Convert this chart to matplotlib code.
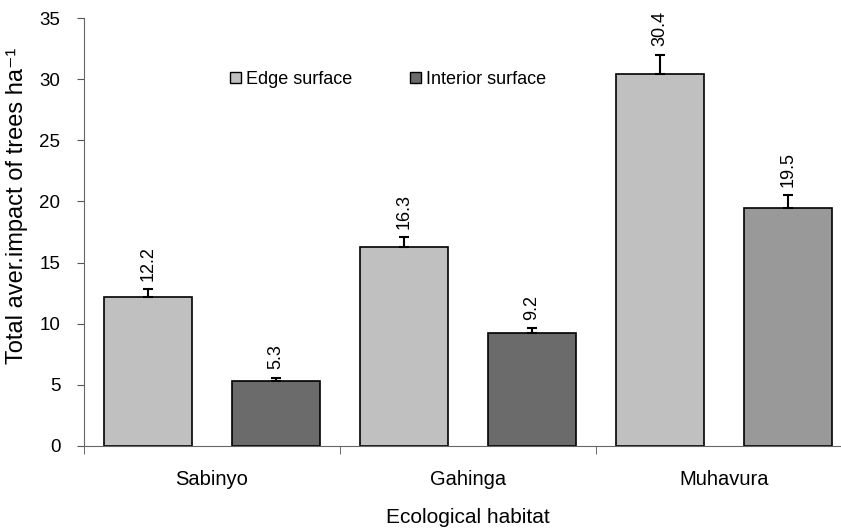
import numpy as np
import matplotlib.pyplot as plt
from matplotlib.patches import Patch

plt.rcParams['font.family'] = ['Liberation Sans', 'DejaVu Sans']

habitats = ["Sabinyo", "Gahinga", "Muhavura"]
edge_vals = [12.2, 16.3, 30.4]
edge_err = [0.65, 0.8, 1.6]
interior_vals = [5.3, 9.2, 19.5]
interior_err = [0.3, 0.45, 1.0]

edge_color = "#c0c0c0"
interior_colors = ["#6b6b6b", "#6b6b6b", "#999999"]

fig = plt.figure(figsize=(8.41, 5.28), dpi=100)
ax = fig.add_axes([84 / 841, 82 / 528, 768 / 841, 428 / 528])

x = np.arange(len(habitats))
w = 0.34
off = 0.25

ax.bar(x - off, edge_vals, w, color=edge_color, edgecolor="black", linewidth=1.2, zorder=2)
ax.bar(x + off, interior_vals, w, color=interior_colors, edgecolor="black", linewidth=1.2, zorder=2)

ax.errorbar(x - off, edge_vals, yerr=[np.zeros(3), edge_err], fmt="none",
            ecolor="black", elinewidth=1.5, capsize=3.5, capthick=1.5, zorder=3)
ax.errorbar(x + off, interior_vals, yerr=[np.zeros(3), interior_err], fmt="none",
            ecolor="black", elinewidth=1.5, capsize=3.5, capthick=1.5, zorder=3)

for xi, v, e in zip(x - off, edge_vals, edge_err):
    ax.annotate(f"{v}", (xi, v + e), xytext=(0, 6), textcoords="offset points",
                rotation=90, ha="center", va="bottom", fontsize=13)
for xi, v, e in zip(x + off, interior_vals, interior_err):
    ax.annotate(f"{v}", (xi, v + e), xytext=(0, 6), textcoords="offset points",
                rotation=90, ha="center", va="bottom", fontsize=13)

ax.set_xlim(-0.5, 2.5)
ax.set_ylim(0, 35)
ax.set_yticks(np.arange(0, 36, 5))
ax.set_xticks(x)
ax.set_xticklabels(habitats, fontsize=14.5)
ax.set_xticks([-0.5, 0.5, 1.5, 2.5], minor=True)
ax.tick_params(axis="x", which="major", length=0, pad=17)
ax.tick_params(axis="x", which="minor", length=6, color="#555555")
ax.tick_params(axis="y", labelsize=13.5, length=5, pad=12, color="#555555")

for s in ["top", "right"]:
    ax.spines[s].set_visible(False)
for s in ["left", "bottom"]:
    ax.spines[s].set_color("#666666")

ax.set_xlabel("Ecological habitat", fontsize=15, labelpad=14)
ax.set_ylabel("Total aver.impact of trees ha\u207b\u00b9", fontsize=17)
ax.yaxis.set_label_coords(-0.073, 0.562)

handles = [Patch(facecolor=edge_color, edgecolor="black", label="Edge surface"),
           Patch(facecolor=interior_colors[0], edgecolor="black", label="Interior surface")]
ax.legend(handles=handles, loc="center", bbox_to_anchor=(0.396, 0.857), ncol=2,
          frameon=False, fontsize=13, handlelength=0.6, handleheight=0.6,
          handletextpad=0.3, columnspacing=3.2)

fig.savefig("out.png", dpi=100)
